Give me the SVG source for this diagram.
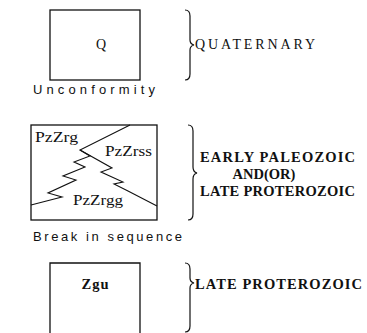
<svg xmlns="http://www.w3.org/2000/svg" width="367" height="333" viewBox="0 0 367 333">
<style>
.box{fill:none;stroke:#111;stroke-width:1.3}
.ln{fill:none;stroke:#111;stroke-width:1.1;stroke-linejoin:miter}
.br{fill:none;stroke:#111;stroke-width:1.2}
.u{font-family:"Liberation Serif",serif;font-size:14px;fill:#111}
.b{font-family:"Liberation Serif",serif;font-size:14.5px;font-weight:bold;fill:#111}
.s{font-family:"Liberation Sans",sans-serif;font-size:13px;fill:#111}
</style>
<rect width="367" height="333" fill="#fff"/>
<g id="unit-Q">
<rect class="box" x="50" y="10" width="90" height="70"/>
<text class="u" x="101" y="49" text-anchor="middle" font-size="14">Q</text>
</g>
<g id="age-quaternary">
<path class="br" d="M185,10 Q190,10 190,16 L190,40 Q190,44 194,45 Q190,46 190,50 L190,74 Q190,80 185,80"/>
<text class="u" x="195" y="49" font-size="13" textLength="120" lengthAdjust="spacing">QUATERNARY</text>
</g>
<g id="unconformity">
<text class="s" x="33" y="94" textLength="122" lengthAdjust="spacing">Unconformity</text>
</g>
<g id="unit-PzZr">
<rect class="box" x="31" y="125" width="126" height="95"/>
<text class="u" x="35" y="142" font-size="15" textLength="43" lengthAdjust="spacingAndGlyphs">PzZrg</text>
<text class="u" x="105" y="156" font-size="15" textLength="47" lengthAdjust="spacingAndGlyphs">PzZrss</text>
<text class="u" x="73" y="205" font-size="15" textLength="50" lengthAdjust="spacingAndGlyphs">PzZrgg</text>
</g>
<g id="connectors">
<path class="ln" d="M130,125 L80,150 L90,156 L74,162 L85,167 L63,176 L76,180 L48,193 L62,197 L31,205"/>
<path class="ln" d="M80,150 L112,168 L101,172 L123,182 L114,184 L128,191 L157,206"/>
</g>
<g id="age-early-paleozoic">
<path class="br" d="M188,125 Q193,125 193,131 L193,167 Q193,172 197,173 Q193,174 193,179 L193,214 Q193,220 188,220"/>
<text class="b" x="200" y="162" textLength="155" lengthAdjust="spacing">EARLY PALEOZOIC</text>
<text class="b" x="264" y="179" text-anchor="middle">AND(OR)</text>
<text class="b" x="200" y="196" textLength="155" lengthAdjust="spacing">LATE PROTEROZOIC</text>
</g>
<g id="break">
<text class="s" x="33" y="241" textLength="149" lengthAdjust="spacing">Break in sequence</text>
</g>
<g id="unit-Zgu">
<path class="box" d="M50,333 L50,263 L140,263 L140,333"/>
<text class="b" x="95" y="289" text-anchor="middle" textLength="27" lengthAdjust="spacing">Zgu</text>
</g>
<g id="age-late-proterozoic">
<path class="br" d="M185,263 Q190,263 190,269 L190,278 Q190,282 194,283 Q190,284 190,288 L190,326 Q190,332 185,332"/>
<text class="b" x="195" y="289" textLength="167" lengthAdjust="spacing">LATE PROTEROZOIC</text>
</g>
</svg>
